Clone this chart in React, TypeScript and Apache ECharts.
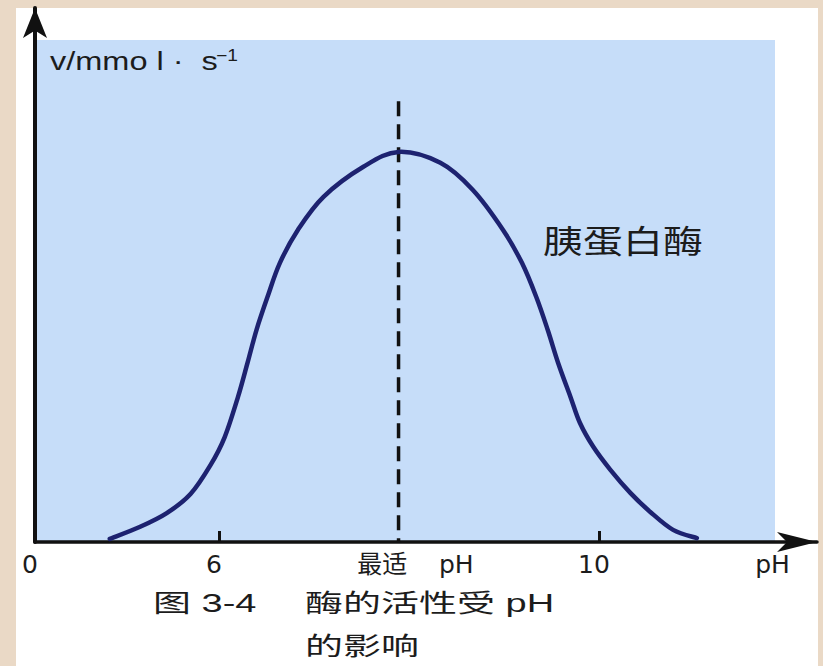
import React, { useEffect, useRef } from "react";
import * as echarts from "echarts";

// Trypsin activity against pH (reaction rate, peak normalised to 100)
const phValues = [4.85, 5.17, 5.45, 5.7, 5.91, 6.06, 6.2, 6.3, 6.395, 6.51, 6.64, 6.83, 7.1, 7.52, 7.89, 8.33, 8.67, 8.99, 9.19, 9.34, 9.46, 9.57, 9.7, 9.8, 9.94, 10.12, 10.33, 10.54, 10.78, 11.03];
const rateValues = [0.8, 3.9, 7.4, 12.3, 19.7, 26.9, 37.2, 45.9, 54.4, 62.8, 71.5, 80.0, 88.5, 96.2, 100, 97.2, 90.3, 80.0, 71.5, 62.8, 54.4, 45.9, 37.2, 30.5, 24.4, 18.5, 12.6, 7.7, 3.1, 1.0];

const optimumPh = 7.89;
const optimumLineTop = 113;

// x axis starts at a broken origin labelled 0
const xMin = 4.063;
const xMax = 12.295;
const yMax = 136.9;

const tickValues = [6, 10];
const xLabelValues = [xMin, 6, 8.12, 10, 11.88];
const xLabelTexts = ["0", "6", "最适    pH", "10", "pH"];

const yAxisTitle = "v/mmo l ·  s";
const yAxisTitleSup = "−1";
const curveName = "胰蛋白酶";
const captionLine1a = "图 3-4";
const captionLine1b = "酶的活性受 pH";
const captionLine2 = "的影响";

const TEXT = "#1c1c1c";
const LATIN = "'Liberation Sans', Arial, 'Noto Sans CJK SC', sans-serif";

// Catmull-Rom spline through pixel points, written as cubic Bézier segments
function splinePath(pts: number[][]): string {
  if (pts.length < 2) return "";
  let d = `M${pts[0][0]},${pts[0][1]}`;
  for (let i = 0; i < pts.length - 1; i++) {
    const p0 = pts[Math.max(i - 1, 0)];
    const p1 = pts[i];
    const p2 = pts[i + 1];
    const p3 = pts[Math.min(i + 2, pts.length - 1)];
    const c1x = p1[0] + (p2[0] - p0[0]) / 6;
    const c1y = p1[1] + (p2[1] - p0[1]) / 6;
    const c2x = p2[0] - (p3[0] - p1[0]) / 6;
    const c2y = p2[1] - (p3[1] - p1[1]) / 6;
    d += ` C${c1x},${c1y} ${c2x},${c2y} ${p2[0]},${p2[1]}`;
  }
  return d;
}

export default function App() {
  const ref = useRef<HTMLDivElement>(null);

  useEffect(() => {
    if (!ref.current) return;
    const chart = echarts.init(ref.current, undefined, { renderer: "svg" });

    const labelFor = (v: number) => {
      let best = 0;
      let diff = Infinity;
      xLabelValues.forEach((x, i) => {
        const d = Math.abs(x - v);
        if (d < diff) {
          diff = d;
          best = i;
        }
      });
      return xLabelTexts[best];
    };

    chart.setOption({
      animation: false,
      backgroundColor: "transparent",
      grid: { left: 35, right: 6, top: 8, bottom: 124, outerBoundsMode: "none" },
      xAxis: {
        type: "value",
        min: xMin,
        max: xMax,
        splitLine: { show: false },
        axisLine: {
          show: true,
          symbol: ["none", "arrow"],
          symbolSize: [15, 40],
          lineStyle: { color: "#111", width: 3.5 },
        },
        axisTick: {
          show: true,
          inside: true,
          length: 11,
          customValues: tickValues,
          lineStyle: { color: "#111", width: 3 },
        },
        axisLabel: {
          show: true,
          customValues: xLabelValues,
          formatter: (v: number) => labelFor(v),
          margin: 10,
          padding: [0, 10, 0, 0],
          color: TEXT,
          fontSize: 25,
          fontFamily: "'DejaVu Sans', 'Noto Sans CJK SC', sans-serif",
        },
      },
      yAxis: {
        type: "value",
        min: 0,
        max: yMax,
        splitLine: { show: false },
        axisTick: { show: false },
        axisLabel: { show: false },
        axisLine: {
          show: true,
          symbol: ["none", "arrow"],
          symbolSize: [18, 30],
          lineStyle: { color: "#111", width: 4 },
        },
      },
      series: [
        {
          name: "最适 pH",
          type: "line",
          data: [
            [optimumPh, optimumLineTop],
            [optimumPh, 0],
          ],
          showSymbol: false,
          silent: true,
          lineStyle: { color: "#111", width: 3.5, type: [15, 8] },
          z: 2,
        },
        {
          name: curveName,
          type: "custom",
          data: phValues.map((p, i) => [p, rateValues[i]]),
          encode: { x: 0, y: 1 },
          z: 3,
          renderItem: (params: any, api: any) => {
            if (params.dataIndex !== 0) return null;
            const pts = phValues.map((p, i) => api.coord([p, rateValues[i]]));
            return {
              type: "path",
              shape: { pathData: splinePath(pts) },
              style: { fill: "none", stroke: "#1d2270", lineWidth: 4.5, lineCap: "round", lineJoin: "round" },
            };
          },
        },
      ],
      graphic: [
        { type: "rect", z: -200, shape: { x: 16, y: 8, width: 802, height: 658 }, style: { fill: "#ffffff" } },
        { type: "rect", z: -100, shape: { x: 35, y: 40, width: 740, height: 502 }, style: { fill: "#c6ddf9" } },
        {
          type: "text",
          x: 50,
          y: 61,
          scaleX: 1.3,
          style: { text: yAxisTitle, fill: TEXT, font: `25px ${LATIN}`, align: "left", verticalAlign: "middle" },
        },
        {
          type: "text",
          x: 216,
          y: 56,
          scaleX: 1.2,
          style: { text: yAxisTitleSup, fill: TEXT, font: `16px ${LATIN}`, align: "left", verticalAlign: "middle" },
        },
        {
          type: "text",
          x: 543,
          y: 239,
          scaleX: 1.25,
          style: { text: curveName, fill: TEXT, font: `32px 'Noto Sans CJK SC', sans-serif`, align: "left", verticalAlign: "middle" },
        },
        {
          type: "text",
          x: 153,
          y: 603,
          scaleX: 1.52,
          style: { text: captionLine1a, fill: TEXT, font: `25px ${LATIN}`, align: "left", verticalAlign: "middle" },
        },
        {
          type: "text",
          x: 305,
          y: 603,
          scaleX: 1.52,
          style: { text: captionLine1b, fill: TEXT, font: `25px ${LATIN}`, align: "left", verticalAlign: "middle" },
        },
        {
          type: "text",
          x: 305,
          y: 646,
          scaleX: 1.52,
          style: { text: captionLine2, fill: TEXT, font: `25px ${LATIN}`, align: "left", verticalAlign: "middle" },
        },
      ],
    });

    return () => chart.dispose();
  }, []);

  return (
    <div style={{ position: "fixed", left: 0, top: 0, width: 823, height: 666, background: "#ead9c6" }}>
      <div ref={ref} style={{ width: 823, height: 666 }} />
    </div>
  );
}
